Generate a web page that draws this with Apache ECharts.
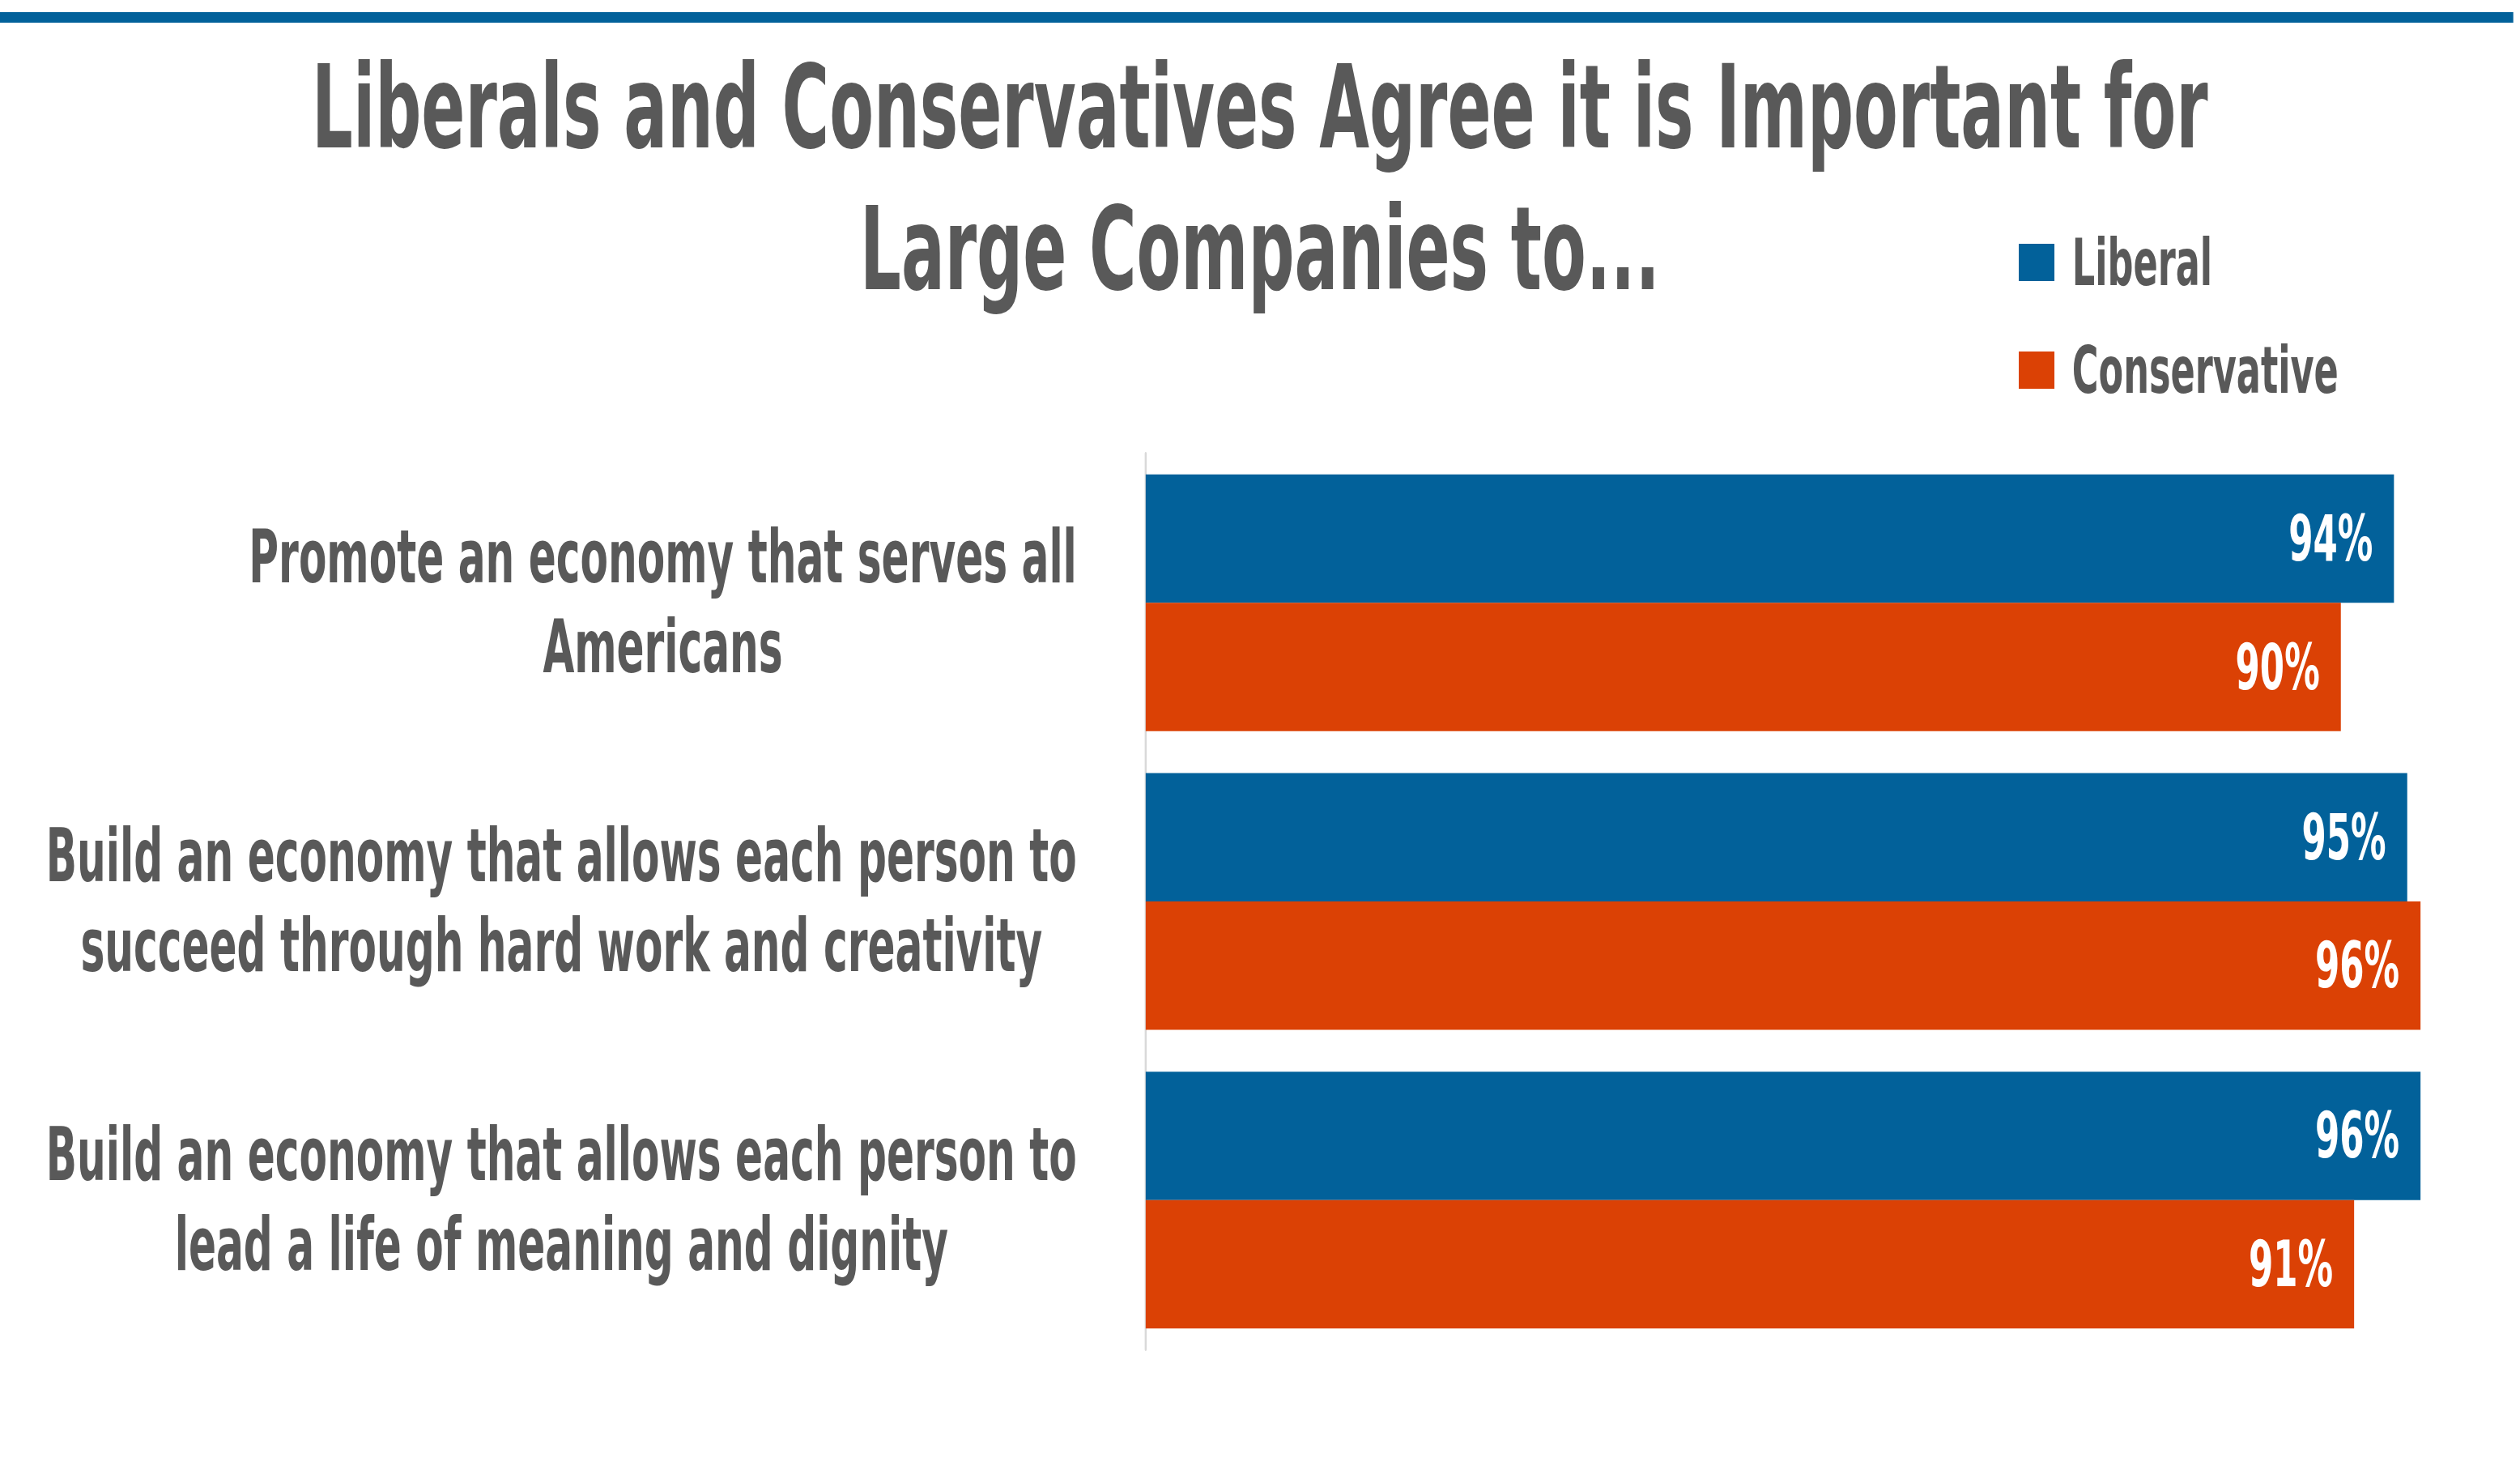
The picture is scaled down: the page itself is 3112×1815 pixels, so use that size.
<!DOCTYPE html>
<html lang="en">
<head>
<meta charset="UTF-8">
<title>Liberals and Conservatives Agree</title>
<script src="https://cdn.jsdelivr.net/npm/echarts@6/dist/echarts.min.js"></script>
<style>
  html, body { margin: 0; padding: 0; background: #fff; overflow: hidden; }
  #wrap { width: 3112px; height: 1815px; overflow: hidden; }
  /* the reference uses a condensed face; no condensed font is installed,
     so the whole chart is laid out wider and squeezed horizontally */
  #chart { width: 5019px; height: 1815px; transform: scaleX(0.62); transform-origin: 0 0; }
</style>
</head>
<body>
<div id="wrap"><div id="chart"></div></div>
<script>
// data
var categories = [
  'Promote an economy that serves all\nAmericans',
  'Build an economy that allows each person to\nsucceed through hard work and creativity',
  'Build an economy that allows each person to\nlead a life of meaning and dignity'
];
var seriesNames = ['Liberal', 'Conservative'];
var liberal = [94, 95, 96];
var conservative = [90, 96, 91];

var FONT = '"Liberation Sans Narrow", "DejaVu Sans Condensed", "Roboto Condensed", "Liberation Sans", sans-serif';
var GREY = '#595959';
var BLUE = '#02619A';
var ORANGE = '#DB4105';

var chart = echarts.init(document.getElementById('chart'), null, { renderer: 'svg' });

var barLabel = {
  show: true,
  position: 'insideRight',
  distance: 42,
  formatter: '{c}%',
  fontFamily: FONT,
  fontWeight: 'bold',
  fontSize: 78,
  color: '#fff'
};

chart.setOption({
  animation: false,
  color: [BLUE, ORANGE],
  graphic: [{
    type: 'rect',
    shape: { x: 0, y: 15, width: 5006, height: 13 },
    style: { fill: BLUE }
  }],
  title: {
    text: 'Liberals and Conservatives Agree it is Important for\nLarge Companies to...',
    left: 'center',
    top: 45,
    padding: 0,
    textStyle: {
      fontFamily: FONT,
      fontWeight: 'bold',
      fontSize: 143,
      lineHeight: 175,
      color: GREY
    }
  },
  legend: {
    data: seriesNames,
    orient: 'vertical',
    left: 4021,
    top: 284,
    padding: 0,
    itemWidth: 71,
    itemHeight: 46,
    itemGap: 53,
    icon: 'rect',
    textStyle: {
      fontFamily: FONT,
      fontWeight: 'bold',
      fontSize: 80,
      color: GREY,
      padding: [0, 0, 0, 30]
    }
  },
  grid: {
    left: 2282,
    top: 560,
    width: 2645,
    height: 1106,
    containLabel: false,
    outerBoundsMode: 'none'
  },
  xAxis: {
    type: 'value',
    min: 0,
    max: 100,
    show: false
  },
  yAxis: {
    type: 'category',
    data: categories,
    inverse: true,
    axisLine: { show: true, lineStyle: { color: '#D9D9D9', width: 4 } },
    axisTick: { show: false },
    axisLabel: {
      margin: 137,
      align: 'right',
      fontFamily: FONT,
      fontWeight: 'bold',
      fontSize: 90,
      lineHeight: 111,
      color: GREY,
      formatter: function (v) {
        return v.split('\n').map(function (l) { return '{c|' + l + '}'; }).join('\n');
      },
      rich: {
        c: {
          align: 'center',
          fontFamily: FONT,
          fontWeight: 'bold',
          fontSize: 90,
          lineHeight: 111,
          color: GREY
        }
      }
    }
  },
  series: [
    {
      name: seriesNames[0],
      type: 'bar',
      data: liberal,
      barGap: '0%',
      barCategoryGap: '14%',
      label: barLabel
    },
    {
      name: seriesNames[1],
      type: 'bar',
      data: conservative,
      barGap: '0%',
      barCategoryGap: '14%',
      label: barLabel
    }
  ]
});
</script>
</body>
</html>
